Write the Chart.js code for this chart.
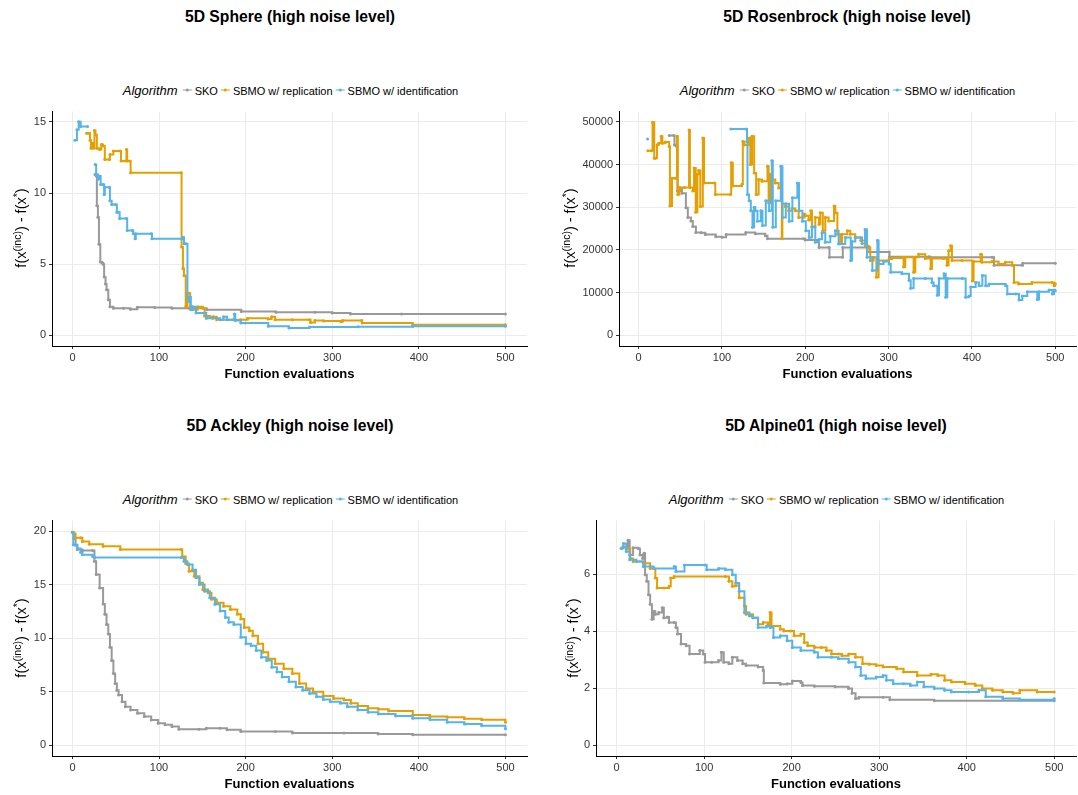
<!DOCTYPE html>
<html>
<head>
<meta charset="utf-8">
<script src="https://cdn.jsdelivr.net/npm/chart.js@4.4.0/dist/chart.umd.min.js"></script>
<style>
  body { margin: 0; background: #fff; font-family: "Liberation Sans", Arial, sans-serif; }
  #page { position: relative; width: 1078px; height: 795px; overflow: hidden; }
  canvas { position: absolute; }
  .title { position: absolute; transform: translate(-50%, -50%); font-weight: bold; font-size: 15.7px; white-space: nowrap; color: #000; }
  .legend { position: absolute; transform: translate(-50%, -50%); white-space: nowrap; font-size: 11px; color: #000; display: flex; align-items: center; }
  .legend i { font-size: 13px; margin-right: 5px; }
  .key { position: relative; display: inline-block; width: 9px; height: 1px; margin: 0 3px 0 0; }
  .key::after { content: ""; position: absolute; left: 3px; top: -1px; width: 3px; height: 3px; border-radius: 50%; background: inherit; }
  .legend span.lab { margin-right: 3px; }
  .ylab { position: absolute; transform: translate(-50%, -50%) rotate(-90deg); font-size: 14.5px; white-space: nowrap; color: #000; z-index: 2; }
  .ylab sup { font-size: 10.5px; }
</style>
</head>
<body>
<div id="page"></div>
<script>
// colours of the three algorithms
const colSKO = '#999999';
const colRep = '#E69F00';
const colIdent = '#56B4E9';
const seriesNames = ['SKO', 'SBMO w/ replication', 'SBMO w/ identification'];

const xTicks = [0, 100, 200, 300, 400, 500];
const sphereYTicks = [0, 5, 10, 15];
const rosenYTicks = [0, 10000, 20000, 30000, 40000, 50000];
const ackleyYTicks = [0, 5, 10, 15, 20];
const alpineYTicks = [0, 2, 4, 6];

// [evaluation, f(x_inc) - f(x*)] — points where the incumbent changes
const sphereSKO = [[26,11.3],[27.4,11.2],[28.2,9.1],[29.4,8.3],[30.6,6.4],[32.2,5.15],[34.2,5.1],[35.4,5.0],[36.6,4.1],[38.2,3.6],[39.4,3.2],[41.4,2.5],[43.3,2.0],[47.3,1.9],[59,1.9],[67,1.83],[75,1.97],[95,1.95],[115,1.9],[135,1.9],[155,1.8],[195,1.67],[235,1.63],[280,1.63],[300,1.56],[321,1.49],[380,1.5],[500,1.5]];
const sphereRep = [[16.3,14.2],[18.7,14.2],[20.3,13.7],[21.5,13.15],[23.5,13.5],[24.3,13.15],[25.4,14.4],[26.6,14.1],[28.2,13.15],[31.4,13.05],[33.4,13.4],[35.4,13.3],[37.4,12.35],[42.5,12.35],[43.3,12.7],[47.3,12.95],[55.3,12.95],[56.1,12.25],[61.2,12.25],[62.4,13.05],[63.2,12.25],[66,12.25],[67.2,11.42],[125.6,11.42],[126,6.2],[127.6,4.7],[128.8,4.2],[130.8,2.0],[132.8,2.95],[134.7,2.95],[136,2.0],[138.7,1.8],[144.7,2.0],[150.6,1.9],[152.6,1.35],[158.6,1.3],[162.6,1.3],[166.6,1.1],[194.4,1.1],[202.3,1.2],[226,1.15],[230,1.3],[234,1.1],[254,1.1],[273.8,1.1],[275,0.9],[280,1.05],[290,1.0],[310,0.95],[312,1.05],[334,1.05],[334.5,0.86],[393,0.74],[500,0.74]];
const sphereIdent = [[2.8,13.7],[5.2,14.45],[7.2,15.0],[9.5,14.67],[17.5,14.67],[18,null],[26.2,12.0],[27.4,11.3],[29.4,10.96],[31.4,11.2],[32.6,10.6],[35.4,10.6],[36.6,9.9],[37.4,10.4],[42.5,10.4],[43.3,9.45],[45.3,9.2],[49.3,9.2],[51.3,8.64],[53.3,8.64],[54.5,8.2],[62.4,8.2],[63.2,7.36],[69.1,7.36],[70.3,7.13],[72.3,6.78],[73.1,7.13],[91,7.13],[91.8,6.78],[126.8,6.78],[127.6,6.9],[128.8,6.43],[130.8,6.43],[132.8,2.7],[134,2.37],[135.5,2.7],[136.7,1.79],[138.7,2.0],[142.7,1.56],[154.6,1.2],[162,1.2],[170.5,1.09],[174.5,1.3],[178.5,1.09],[186,1.09],[187,1.5],[188,1.05],[194.4,0.86],[200,0.86],[226.2,0.63],[250,0.51],[273.8,0.58],[330,0.6],[393,0.63],[500,0.63]];

const rosenSKO = [[36.7,46800],[42,46800],[43,44600],[45.5,44300],[46.5,33800],[50.7,34200],[52,33300],[56.7,29900],[59,27600],[62.7,26800],[65,25500],[68.7,24100],[75,24000],[80,23600],[92.6,23100],[100,23000],[105,23600],[128.6,24100],[140,23800],[152,23300],[154.6,22600],[198,22600],[200,22300],[215,22000],[216.5,20600],[228.5,20600],[229,18300],[244.5,18300],[245,20600],[276.5,20600],[277,19500],[300.5,19500],[301,18400],[348.5,18400],[350,18300],[424.5,18300],[426.5,16400],[460.5,16400],[461,16900],[500,16900]];
const rosenRep = [[11,43200],[15,43200],[16.7,49900],[18.7,41500],[20,41500],[22,44600],[24,45000],[27,46600],[28.5,45000],[32,45300],[36.6,44200],[37.5,30300],[40,36800],[44,36800],[46,46600],[47,33000],[49,34600],[55,34600],[60.5,48100],[61.5,34600],[65,33800],[66.5,39200],[68.5,28800],[70.5,37700],[72,38600],[74,30200],[77,46200],[78.5,35700],[91,35700],[92,33000],[110,33000],[111,40400],[113,35000],[124,35400],[125,45400],[127,44600],[132.6,46200],[134,40000],[136,46600],[138.6,38000],[141,33000],[144,36500],[148,36100],[154.6,39600],[156,31000],[158,37700],[160,36500],[164,35700],[168,34500],[171.8,22600],[172.5,30800],[176,30200],[180,29200],[184,29700],[188,29200],[192,27600],[198.6,28400],[200,28000],[204,27000],[206.6,29200],[208,25300],[212,27600],[216.5,26000],[218,28700],[221,24500],[224,27600],[228,26800],[234.5,30300],[236,28700],[238.5,23700],[242,21800],[244,23700],[250.5,24500],[254,23700],[260,22900],[266.5,22200],[272,21000],[276,20600],[278,17500],[282,18300],[285.3,13600],[288,17500],[300.5,17900],[304,18100],[316,18300],[318,16000],[320,18300],[330,14800],[332,18300],[336,19000],[344,18000],[350.5,15600],[352,18000],[366,18000],[370,16400],[372,19800],[374.5,21000],[376,17500],[388,17500],[400.5,12700],[402,17300],[410.5,19000],[412,17100],[424,17300],[432,16700],[440,17100],[448.5,16400],[450.5,12400],[456,12000],[472,12400],[496,12400],[498.5,11600],[500,12100]];
const rosenIdent = [[10.7,46000],[12,null],[110.6,48300],[128.6,48300],[130,45400],[130.6,33000],[132.5,31500],[134.6,29200],[136.6,25300],[138.6,30000],[140,29200],[142.6,26700],[146.6,29200],[148.6,25700],[152.6,31500],[156.6,29200],[159.8,40900],[161,25300],[164.6,31500],[170.6,39600],[172.6,27600],[176.6,30800],[180.6,26700],[184.5,32200],[190.5,35700],[192.5,29200],[196.5,26700],[200.6,24500],[204.6,22900],[208,25500],[212,21800],[216.5,22500],[220,24000],[224,21800],[230,23200],[236,24500],[240,21400],[248,22900],[254.5,17500],[256,22000],[260,22900],[268,21500],[271.7,24800],[274,18300],[280.5,15200],[286.5,22200],[288,16700],[294,17300],[300.5,16700],[302.5,14800],[316,14400],[324.5,12900],[326.5,11000],[330,13300],[344,13300],[352,12400],[354,11600],[358.5,9400],[360.5,13300],[366.5,14400],[368.5,8900],[370.5,13300],[388.5,13300],[392.5,8900],[396.5,9200],[398.5,11300],[404.5,12400],[408.5,11600],[412.5,14000],[416.5,11600],[420.5,12000],[440.5,11600],[442.5,9700],[452.5,9700],[456.5,8300],[460.5,9200],[466.5,10200],[478.5,8400],[480.5,10200],[492.5,10600],[496.5,9700],[498.5,10600],[500,10400]];

const ackleySKO = [[0,19.9],[1.6,19.35],[3.6,18.7],[5.6,18.3],[11.5,18.2],[23.4,18.2],[25.4,17.2],[27.4,15.96],[31.4,14.7],[35.4,13.2],[37.4,12.25],[39.4,11.3],[41.4,10.4],[43.3,9.17],[45.3,7.93],[47.3,6.7],[49.3,5.77],[51.3,5.15],[53.3,4.69],[57.2,4.07],[61.2,3.6],[67.2,3.3],[75.1,3.0],[83,2.68],[91,2.37],[99,2.07],[106.9,1.91],[114.9,1.76],[122.9,1.51],[146,1.51],[154.6,1.6],[170.5,1.6],[178.5,1.45],[194.4,1.3],[234.2,1.3],[254,1.14],[313.6,1.14],[353,1.05],[393,0.99],[500,0.99]];
const ackleyRep = [[1,19.8],[3.6,19.4],[9.5,19.4],[11.5,19.04],[19.5,18.8],[35.4,18.6],[55.3,18.3],[125.6,18.3],[126.8,17.65],[130.8,17.0],[134.7,16.27],[140.7,15.8],[146.7,15.2],[150.6,14.57],[156.6,14.26],[160.6,13.64],[166.6,13.33],[174.5,13.0],[182.4,12.7],[190.4,12.25],[194.4,11.8],[198.3,11.0],[204.3,10.7],[208.3,10.25],[214.2,9.48],[220.2,8.7],[226.1,8.09],[234.1,7.62],[244,7.16],[254,6.7],[262,5.77],[269.9,5.3],[277.8,5.0],[289.7,4.6],[301.6,4.38],[313.6,4.23],[321.5,3.92],[329.5,3.67],[341.4,3.46],[353.3,3.36],[365.2,3.2],[393,2.84],[412.9,2.68],[432.8,2.62],[452.7,2.47],[472.6,2.38],[500,2.16]];
const ackleyIdent = [[0,19.9],[1,18.75],[5.6,18.4],[9.5,18.05],[11.5,17.8],[23.4,17.65],[25.4,17.56],[125.6,17.56],[128.8,17.2],[132.8,16.9],[138.7,16.4],[142.7,15.65],[146.7,15.03],[152.6,14.4],[158.6,13.8],[164.5,13.18],[170.5,12.56],[176.5,11.94],[180.4,11.5],[186.4,11.3],[194.4,10.1],[200.3,9.5],[206.3,9.3],[212.2,8.86],[218.2,8.24],[224.2,7.93],[230.2,7.3],[236.1,6.85],[242.1,6.39],[250,5.93],[258,5.46],[265.9,5.15],[273.9,4.85],[281.8,4.54],[289.7,4.29],[297.7,4.07],[309.6,3.92],[317.5,3.61],[329.5,3.3],[341.4,3.09],[353.3,2.93],[373.2,2.75],[393,2.53],[412.9,2.38],[432.8,2.16],[452.7,1.98],[472.6,1.82],[500,1.54]];

const alpineSKO = [[7,6.96],[11,6.9],[12.9,7.19],[14.9,6.67],[18.8,6.92],[24.6,6.9],[26.6,6.67],[29.7,6.55],[31.3,6.73],[32.5,5.98],[34.4,5.75],[36.4,5.28],[38.3,4.94],[40.3,4.42],[42.3,4.7],[44.2,4.59],[48.1,4.65],[52,4.82],[53.9,4.47],[57.9,4.5],[59.9,4.3],[65.7,4.3],[67.7,4.13],[69.6,3.9],[73.5,3.55],[79.4,3.49],[83.3,3.2],[95,3.32],[98.9,3.2],[101,2.91],[108.6,2.91],[116.5,2.97],[119.7,3.26],[122.4,2.91],[128.3,2.86],[132.2,3.09],[138,2.97],[144,2.86],[147.9,2.8],[161.6,2.74],[167.4,2.62],[168.2,2.18],[187,2.14],[195,2.16],[200.7,2.25],[210.5,2.2],[212.4,2.1],[226,2.07],[249.6,2.05],[265,1.99],[269,1.82],[273,1.64],[277,1.68],[304.4,1.68],[312.2,1.6],[363,1.56],[500,1.56]];
const alpineRep = [[12.9,6.9],[15.6,6.55],[18.8,6.44],[30.5,6.38],[38.3,6.2],[44.2,5.86],[46.2,5.51],[54,5.51],[59.9,5.57],[61.8,5.86],[65.7,5.92],[124.4,5.92],[128.3,5.75],[132.2,5.57],[136,5.6],[140,5.17],[146,4.88],[147.9,4.59],[155.7,4.47],[161.6,4.24],[167.4,4.3],[173.3,4.24],[175.3,4.65],[177,4.18],[187,4.07],[191,4.01],[198.7,4.01],[202.6,3.84],[210.5,3.9],[214.4,3.6],[218.3,3.49],[226,3.43],[233.9,3.43],[239.8,3.32],[245.6,3.2],[253.5,3.2],[257.4,3.14],[265.2,3.2],[273,3.09],[281,2.86],[288.7,2.84],[296.6,2.8],[304.4,2.74],[320,2.68],[327.9,2.57],[343.5,2.45],[359.2,2.49],[367,2.45],[374.8,2.28],[382.6,2.22],[398.2,2.16],[410,2.1],[417.8,1.99],[429.5,1.93],[441.3,1.87],[453,1.82],[460.8,1.93],[480.4,1.87],[500,1.87]];
const alpineIdent = [[5,6.9],[7.8,7.07],[11,6.79],[14.9,6.5],[22.7,6.44],[30.5,6.27],[38.3,6.27],[42.3,6.2],[65.7,6.27],[67.7,6.09],[77.5,6.32],[101,6.32],[102.9,6.15],[116.6,6.2],[124.4,6.15],[132.2,5.98],[136.1,5.69],[140,5.4],[146,4.65],[151.8,4.53],[155.7,4.47],[161.6,4.13],[171.4,4.18],[175.3,4.13],[179.2,3.78],[187,3.84],[194.8,3.66],[200.7,3.43],[210.5,3.32],[226,3.26],[230,3.09],[245.6,3.09],[253.5,3.03],[265.2,2.91],[273,2.74],[279,2.45],[284.8,2.34],[296.6,2.39],[304.4,2.45],[308.3,2.28],[316,2.16],[327.9,2.16],[335.7,2.1],[343.5,2.22],[351,2.05],[363,1.99],[374.8,1.93],[382.6,1.87],[402.2,1.87],[414,1.93],[421.8,1.7],[441.3,1.64],[460.8,1.6],[500,1.64]];

const font = '"Liberation Sans", Arial, sans-serif';
const page = document.getElementById('page');

const panels = [
  { title: '5D Sphere (high noise level)', cx: 290, ty: 17, ly: 90, yx: 20,
    canvas: { left: 0, top: 102, width: 530, height: 284 }, padRight: 3,
    ymin: -0.75, ymax: 15.72, yTicks: sphereYTicks, data: [sphereSKO, sphereRep, sphereIdent] },
  { title: '5D Rosenbrock (high noise level)', cx: 847, ty: 17, ly: 90, yx: 569,
    canvas: { left: 567, top: 102, width: 511, height: 284 }, padRight: 2,
    ymin: -2495, ymax: 52395, yTicks: rosenYTicks, data: [rosenSKO, rosenRep, rosenIdent] },
  { title: '5D Ackley (high noise level)', cx: 290, ty: 426, ly: 499, yx: 20,
    canvas: { left: 0, top: 511, width: 530, height: 285 }, padRight: 3,
    ymin: -1, ymax: 21, yTicks: ackleyYTicks, data: [ackleySKO, ackleyRep, ackleyIdent] },
  { title: '5D Alpine01 (high noise level)', cx: 836, ty: 426, ly: 499, yx: 572,
    canvas: { left: 544, top: 511, width: 534, height: 285 }, padRight: 2,
    ymin: -0.375, ymax: 7.875, yTicks: alpineYTicks, data: [alpineSKO, alpineRep, alpineIdent] }
];

const colors = [colSKO, colRep, colIdent];

panels.forEach(p => {
  const t = document.createElement('div');
  t.className = 'title';
  t.style.left = p.cx + 'px';
  t.style.top = p.ty + 'px';
  t.textContent = p.title;
  page.appendChild(t);

  const lg = document.createElement('div');
  lg.className = 'legend';
  lg.style.left = (p.cx + 2) + 'px';
  lg.style.top = p.ly + 'px';
  lg.innerHTML = '<i>Algorithm</i>' + seriesNames.map((n, i) =>
    `<span class="key" style="background:${colors[i]}"></span><span class="lab">${n}</span>`).join('');
  page.appendChild(lg);

  const yl = document.createElement('div');
  yl.className = 'ylab';
  yl.style.left = p.yx + 'px';
  yl.style.top = (p.canvas.top + 8 + (p.canvas.height - 48) / 2) + 'px';
  yl.innerHTML = 'f(x<sup>(inc)</sup>) - f(x<sup>*</sup>)';
  page.appendChild(yl);

  const cv = document.createElement('canvas');
  cv.width = p.canvas.width;
  cv.height = p.canvas.height;
  cv.style.left = p.canvas.left + 'px';
  cv.style.top = p.canvas.top + 'px';
  cv.style.width = p.canvas.width + 'px';
  cv.style.height = p.canvas.height + 'px';
  page.appendChild(cv);

  new Chart(cv.getContext('2d'), {
    type: 'line',
    data: {
      datasets: p.data.map((d, i) => ({
        label: seriesNames[i],
        data: d,
        borderColor: colors[i],
        backgroundColor: colors[i],
        borderWidth: 2,
        pointRadius: 1.5,
        pointBorderWidth: 0,
        pointHoverRadius: 0,
        stepped: true,
        spanGaps: false,
        order: 2 - i
      }))
    },
    options: {
      responsive: false,
      animation: false,
      layout: { padding: { top: 8, right: p.padRight, left: 0, bottom: 0 } },
      plugins: { legend: { display: false }, title: { display: false }, tooltip: { enabled: false } },
      scales: {
        x: {
          type: 'linear', min: -23.6, max: 524.9,
          afterFit: s => { s.height = 40; },
          afterBuildTicks: s => { s.ticks = xTicks.map(v => ({ value: v })); },
          grid: { color: '#EBEBEB', lineWidth: 1, tickLength: 3, tickColor: '#333' },
          border: { display: true, color: '#000', width: 1 },
          ticks: { color: '#333', font: { family: font, size: 11 }, padding: 2, maxRotation: 0 },
          title: { display: true, text: 'Function evaluations', color: '#000',
                   font: { family: font, size: 13, weight: 'bold' }, padding: { top: 4, bottom: 4 } }
        },
        y: {
          type: 'linear', min: p.ymin, max: p.ymax,
          afterFit: s => { s.width = 52; },
          afterBuildTicks: s => { s.ticks = p.yTicks.map(v => ({ value: v })); },
          grid: { color: '#EBEBEB', lineWidth: 1, tickLength: 3, tickColor: '#333' },
          border: { display: true, color: '#000', width: 1 },
          ticks: { color: '#333', font: { family: font, size: 11 }, padding: 3, callback: v => String(v) }
        }
      }
    }
  });
});
</script>
</body>
</html>
